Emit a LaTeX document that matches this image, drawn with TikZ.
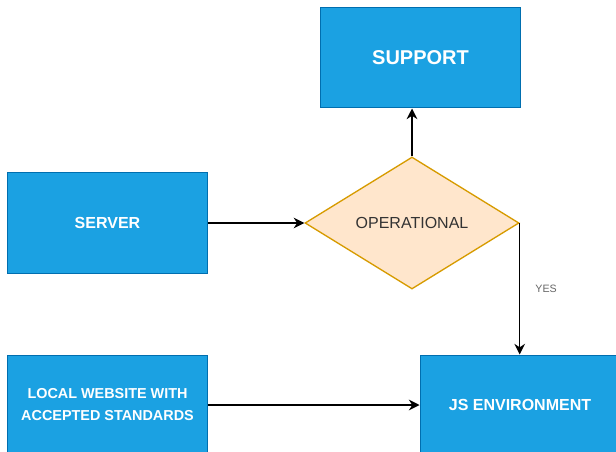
\documentclass[tikz,border=0pt]{standalone}
\usepackage{fontspec}
\setmainfont{Liberation Sans}
\usetikzlibrary{shapes.geometric, arrows.meta, positioning}
\definecolor{boxblue}{HTML}{1BA1E2}
\definecolor{boxedge}{HTML}{006EAF}
\definecolor{decfill}{HTML}{FFE6CC}
\definecolor{decedge}{HTML}{D79B00}

\begin{document}
\begin{tikzpicture}[x=0.75pt, y=-0.75pt,
        blockbox/.style={rectangle, draw=boxedge, fill=boxblue, line width=0.75pt, minimum width=150pt, minimum height=75pt, text=white, align=center, font=\bfseries\fontsize{12}{16.5}\selectfont},
        decision/.style={diamond, draw=decedge, fill=decfill, line width=1pt, minimum width=160.5pt, minimum height=99pt, inner sep=0pt, text=black!80, font=\fontsize{12}{14}\selectfont},
        flow/.style={-{Stealth[length=8pt, width=8pt]}, line width=1pt}]
        
        % page frame, the lower boxes run past the edge
        \clip (0,0) rectangle (616,452);
        
        % Nodes
        \node[blockbox, font=\bfseries\fontsize{15}{18}\selectfont] (support) at (420.5,58) {SUPPORT};
        \node[blockbox] (server) at (107.5,223) {SERVER};
        \node[decision] (operational) at (412,223) {OPERATIONAL};
        \node[blockbox, font=\bfseries\fontsize{10.8}{16.5}\selectfont] (local) at (107.5,405) {LOCAL WEBSITE WITH \\ ACCEPTED STANDARDS};
        \node[blockbox] (jsenv) at (520,405) {JS ENVIRONMENT};
        
        % Arrows
        \draw[flow] (server) -- (operational);
        \draw[flow] (operational.north) -- (operational.north |- support.south);
        \draw[flow] (operational.east) -- node[right=8pt, text=black!60, font=\fontsize{8}{10}\selectfont] {YES} (operational.east |- jsenv.north);
        \draw[flow] (local) -- (jsenv);
        
\end{tikzpicture}
\end{document}
